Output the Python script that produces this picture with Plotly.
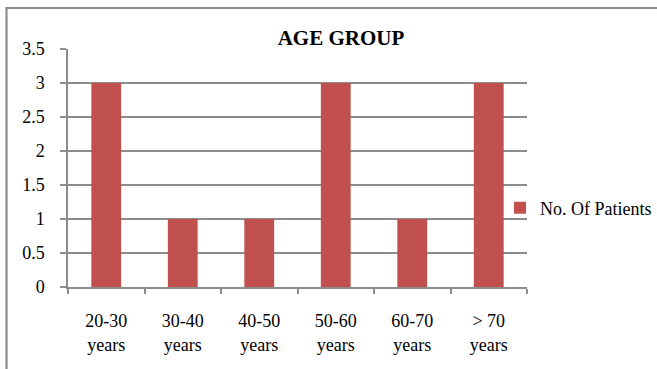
import plotly.graph_objects as go

# Patient counts by age band
categories = ["20-30<br>years", "30-40<br>years", "40-50<br>years",
              "50-60<br>years", "60-70<br>years", "> 70<br>years"]
patients = [3, 1, 1, 3, 1, 3]
y_ticks = [0, 0.5, 1, 1.5, 2, 2.5, 3, 3.5]
y_tick_text = ["0", "0.5", "1", "1.5", "2", "2.5", "3", "3.5"]

W, H = 657, 369
L, R, T, B = 68, 130, 49, 82
plot_w = W - L - R
plot_h = H - T - B

def px_x(p):
    return (p - L) / plot_w

def px_y(p):
    return (H - B - p) / plot_h

FONT = "Liberation Serif, Times New Roman, serif"
GRID = "#8c8c8c"

fig = go.Figure(
    go.Bar(
        x=categories,
        y=patients,
        name="No. Of Patients",
        marker=dict(color="#C0504D", line=dict(width=0)),
        width=0.39,
    )
)

fig.update_layout(
    width=W,
    height=H,
    margin=dict(l=L, r=R, t=T, b=B, autoexpand=False),
    paper_bgcolor="white",
    plot_bgcolor="white",
    font=dict(family=FONT, size=18, color="black"),
    title=dict(
        text="<b>AGE GROUP</b>",
        font=dict(family=FONT, size=21, color="black"),
        x=341 / W, xref="container", xanchor="center",
        y=1 - 38 / H, yref="container", yanchor="middle",
    ),
    showlegend=True,
    legend=dict(
        x=px_x(500), xanchor="left",
        y=px_y(208), yanchor="middle",
        font=dict(family=FONT, size=18, color="black"),
        bgcolor="rgba(0,0,0,0)",
        itemwidth=30,
    ),
    bargap=0.61,
    shapes=[
        dict(
            type="rect", xref="paper", yref="paper",
            x0=px_x(6.5), x1=px_x(700), y0=px_y(8), y1=px_y(420),
            line=dict(color="#8c8c8c", width=2.2),
            fillcolor="rgba(0,0,0,0)",
            layer="below",
        )
    ],
)

fig.update_xaxes(
    type="category",
    showgrid=False,
    showline=True,
    linecolor=GRID,
    linewidth=1.5,
    ticks="outside",
    tickson="boundaries",
    ticklen=5,
    tickcolor=GRID,
    tickwidth=1.5,
    ticklabelstandoff=17,
    tickfont=dict(family=FONT, size=18, color="black"),
)

fig.update_yaxes(
    range=[0, 3.5],
    tickvals=y_ticks,
    ticktext=y_tick_text,
    showgrid=True,
    gridcolor=GRID,
    gridwidth=1.5,
    zeroline=False,
    showline=True,
    linecolor=GRID,
    linewidth=1.5,
    ticks="outside",
    ticklen=6,
    tickcolor=GRID,
    tickwidth=1.5,
    ticklabelstandoff=12,
    tickfont=dict(family=FONT, size=18, color="black"),
)

fig.write_html("out.html")
